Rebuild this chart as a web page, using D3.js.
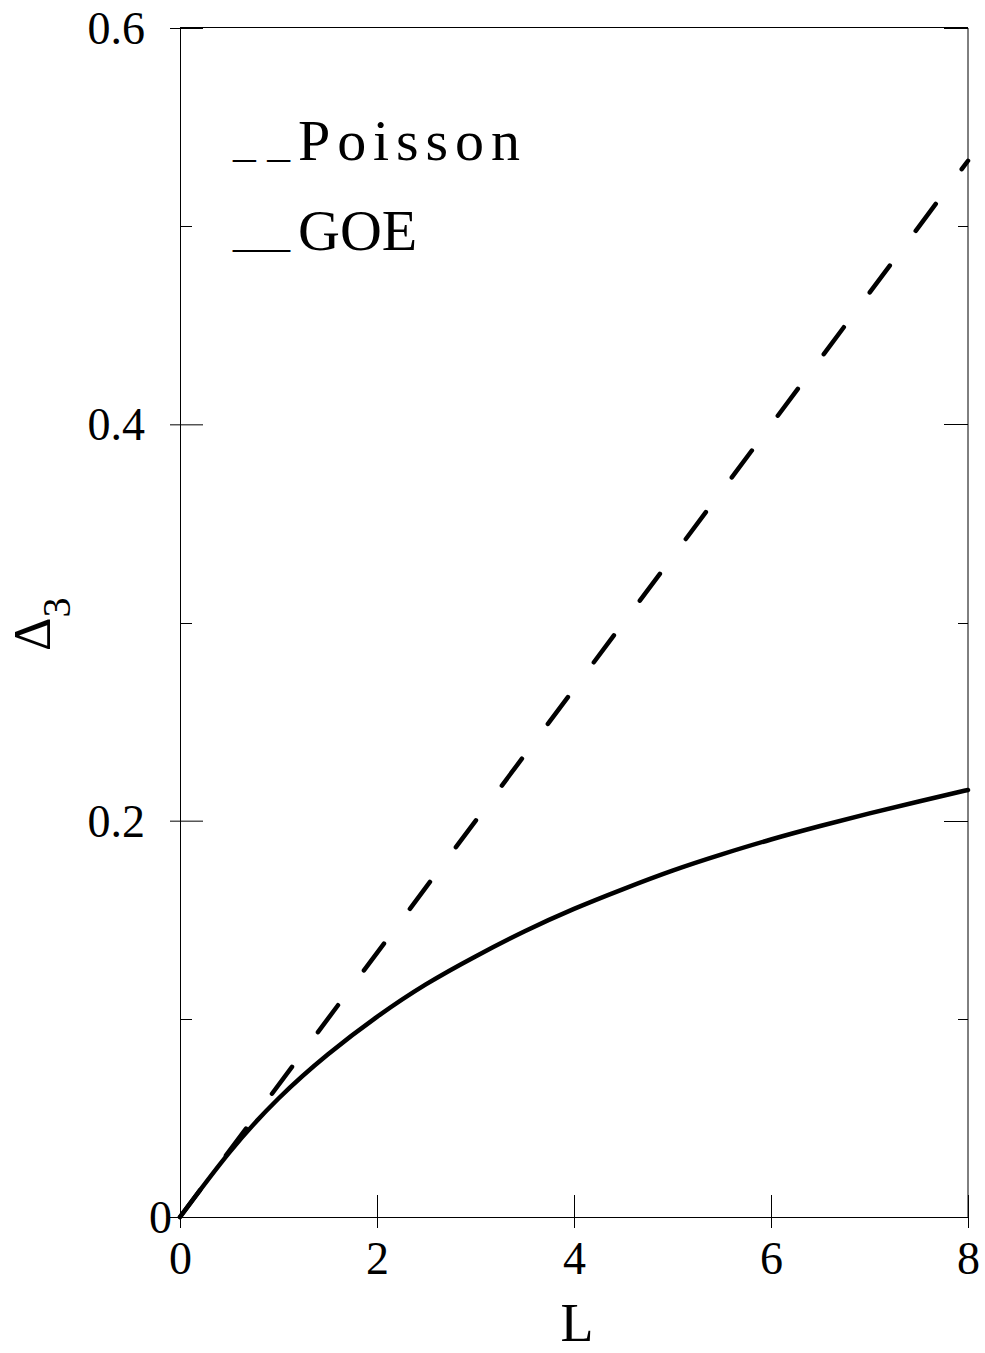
<!DOCTYPE html>
<html>
<head>
<meta charset="utf-8">
<script src="https://cdn.jsdelivr.net/npm/d3@7.9.0/dist/d3.min.js"></script>
<style>
  html, body { margin: 0; padding: 0; background: #fff; }
  svg { display: block; }
  text { font-family: "Liberation Serif", serif; fill: #000; }
</style>
</head>
<body>
<svg id="chart" width="985" height="1353"></svg>
<script>
// data
const poissonL = [0, 8];
const poissonD = [0, 0.533];

const goeL = [0, 0.5, 1, 1.5, 2, 2.5, 3, 3.5, 4, 4.5, 5, 5.5, 6, 6.5, 7, 7.5, 8];
const goeD = [0, 0.0325, 0.0598, 0.082, 0.101, 0.1175, 0.1315, 0.1442, 0.1555, 0.1655,
  0.1748, 0.183, 0.1905, 0.1973, 0.2037, 0.2097, 0.2155];

const xTicks = [0, 2, 4, 6, 8];
const yTicks = [0, 0.2, 0.4, 0.6];
const yMinor = [0.1, 0.3, 0.5];
const legendMarks = ['_ _', '__'];
const legendNames = ['Poisson', 'GOE'];

const plot = { left: 180, right: 968, top: 28, bottom: 1217 };

const svg = d3.select('#chart');

const x = d3.scaleLinear().domain([0, 8]).range([plot.left, plot.right]);
const y = d3.scaleLinear().domain([0, 0.6]).range([plot.bottom, plot.top]);

// frame
svg.append('line')
  .attr('x1', plot.left).attr('x2', plot.right)
  .attr('y1', plot.top - 0.5).attr('y2', plot.top - 0.5)
  .attr('stroke', '#000');
svg.append('line')
  .attr('x1', plot.right).attr('x2', plot.right)
  .attr('y1', plot.top).attr('y2', plot.bottom)
  .attr('stroke', '#000');

// left axis, major ticks cross the line
const yAxis = d3.axisLeft(y)
  .tickValues(yTicks)
  .tickFormat(d => d === 0 ? '0' : d3.format('.1f')(d))
  .tickSizeOuter(0);
const gy = svg.append('g')
  .attr('transform', `translate(${plot.left},0)`)
  .call(yAxis);
gy.select('.domain').attr('stroke', '#000');
gy.selectAll('.tick line').attr('x1', -10).attr('x2', 23).attr('stroke', '#000');
gy.selectAll('.tick text')
  .attr('x', d => d === 0 ? -8 : -35)
  .attr('dy', '0.34em')
  .style('font-size', '46px');

// minor ticks left, major + minor ticks right
svg.append('g').selectAll('line')
  .data(yMinor)
  .join('line')
  .attr('x1', plot.left).attr('x2', plot.left + 12)
  .attr('y1', d => Math.round(y(d)) + 0.5).attr('y2', d => Math.round(y(d)) + 0.5)
  .attr('stroke', '#000');
svg.append('g').selectAll('line')
  .data(yTicks.concat(yMinor))
  .join('line')
  .attr('x1', d => yTicks.includes(d) ? plot.right - 24 : plot.right - 10)
  .attr('x2', plot.right)
  .attr('y1', d => Math.round(y(d)) + 0.5).attr('y2', d => Math.round(y(d)) + 0.5)
  .attr('stroke', '#000');

// bottom axis
const xAxis = d3.axisBottom(x)
  .tickValues(xTicks)
  .tickFormat(d3.format('d'))
  .tickSizeOuter(0);
const gx = svg.append('g')
  .attr('transform', `translate(0,${plot.bottom})`)
  .call(xAxis);
gx.select('.domain').attr('stroke', '#000');
gx.selectAll('.tick line').attr('y1', -22).attr('y2', 11).attr('stroke', '#000');
gx.selectAll('.tick text')
  .attr('y', 24)
  .attr('dy', '0.71em')
  .style('font-size', '46px');

// curves
const line = d3.line()
  .x(d => x(d[0]))
  .y(d => y(d[1]));

svg.append('path')
  .datum(d3.zip(poissonL, poissonD))
  .attr('d', line)
  .attr('fill', 'none')
  .attr('stroke', '#000')
  .attr('stroke-width', 4.5)
  .attr('stroke-linecap', 'round')
  .attr('stroke-dasharray', '33.5,43.4');

svg.append('path')
  .datum(d3.zip(goeL, goeD))
  .attr('d', line.curve(d3.curveNatural))
  .attr('fill', 'none')
  .attr('stroke', '#000')
  .attr('stroke-width', 4.5)
  .attr('stroke-linecap', 'round');

// legend: marker glyphs, then series name
const legend = svg.append('g');
legend.selectAll('text.mark')
  .data(legendMarks)
  .join('text')
  .attr('class', 'mark')
  .attr('x', 233)
  .attr('y', (d, i) => 157 + i * 90)
  .attr('textLength', 57)
  .attr('lengthAdjust', 'spacingAndGlyphs')
  .style('font-size', '40px')
  .text(d => d);
legend.selectAll('text.name')
  .data(legendNames)
  .join('text')
  .attr('class', 'name')
  .attr('x', 298)
  .attr('y', (d, i) => 160 + i * 90)
  .attr('textLength', (d, i) => i === 0 ? 222 : null)
  .attr('lengthAdjust', 'spacing')
  .style('font-size', '58px')
  .text(d => d);

// axis titles
svg.append('text')
  .attr('x', x(4) + 3)
  .attr('y', 1341)
  .attr('text-anchor', 'middle')
  .style('font-size', '54px')
  .text('L');

const yTitle = svg.append('text')
  .attr('transform', 'translate(50,651) rotate(-90)')
  .style('font-size', '52px');
yTitle.append('tspan').text('Δ');
yTitle.append('tspan')
  .attr('dy', 20)
  .style('font-size', '40px')
  .text('3');
</script>
</body>
</html>
